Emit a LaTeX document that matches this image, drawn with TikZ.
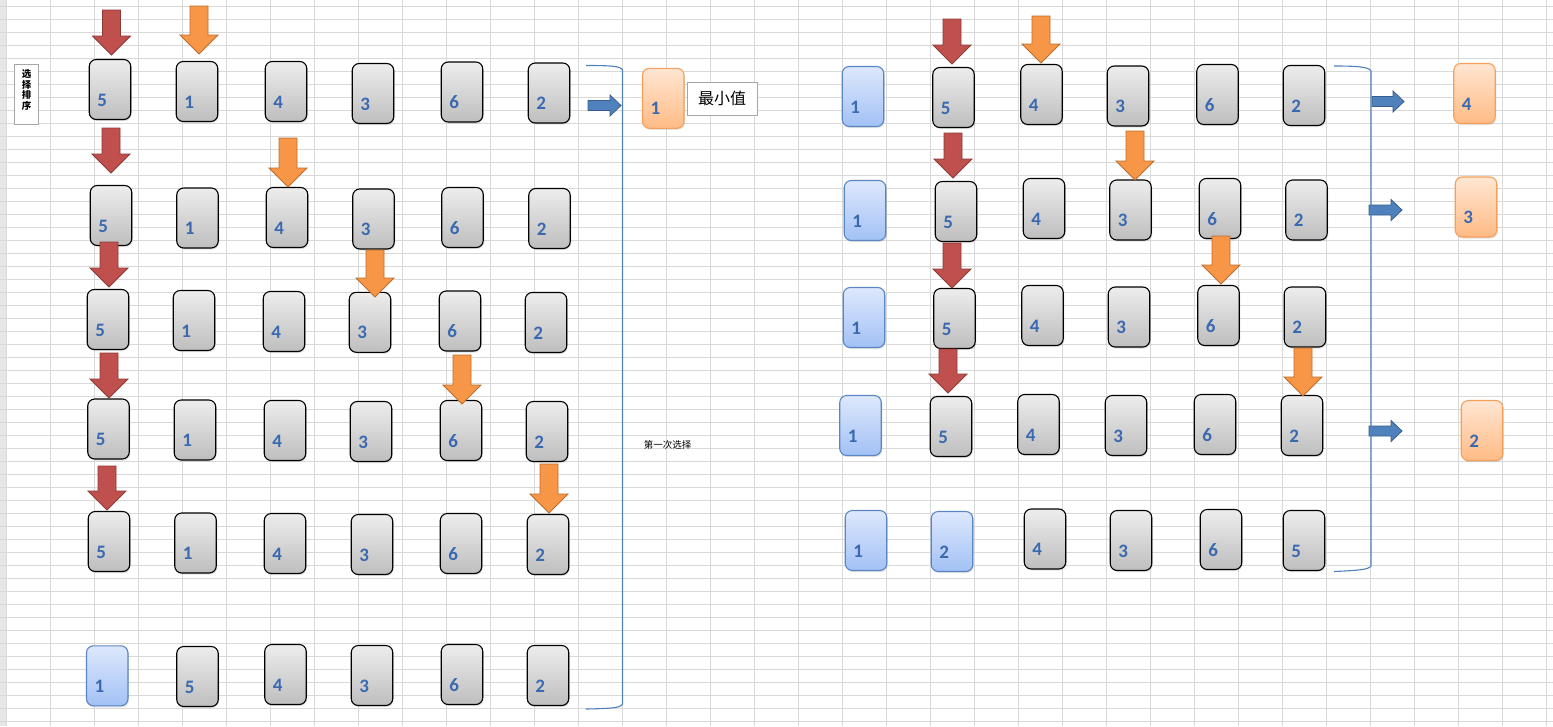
\documentclass[tikz,border=0pt]{standalone}
\usepackage{fontspec}
\newfontfamily\cjk{Noto Sans CJK SC}
\newfontfamily\numfont{Carlito}
\usetikzlibrary{shadows,calc}
\definecolor{gridc}{HTML}{D9D9D9}
\definecolor{hdrc}{HTML}{E6E6E6}
\definecolor{redf}{HTML}{C0504D}
\definecolor{redd}{HTML}{8C3A38}
\definecolor{orgf}{HTML}{F79646}
\definecolor{orgd}{HTML}{B96D30}
\definecolor{bluf}{HTML}{4F81BD}
\definecolor{blud}{HTML}{385D8A}
\definecolor{numc}{HTML}{3A69B0}
\definecolor{gtop}{HTML}{EDEDED}
\definecolor{gbot}{HTML}{BEBEBE}
\definecolor{btop}{HTML}{DDE8FC}
\definecolor{bbot}{HTML}{A3C1F5}
\definecolor{bbrd}{HTML}{5B86C4}
\definecolor{otop}{HTML}{FFE6D2}
\definecolor{obot}{HTML}{FFBB85}
\definecolor{obrd}{HTML}{F5A05A}
\tikzset{
  gridline/.style={draw=gridc, line width=1pt},
  cardbase/.style={rounded corners=7pt, line width=1.1pt, minimum width=41.5pt,
    minimum height=60pt, inner sep=0pt,
    drop shadow={opacity=.22, shadow xshift=1pt, shadow yshift=-1.5pt}},
  greycard/.style={cardbase, draw=black, top color=gtop, bottom color=gbot},
  bluecard/.style={cardbase, draw=bbrd, top color=btop, bottom color=bbot},
  orgcard/.style={cardbase, draw=obrd, top color=otop, bottom color=obot},
  numtxt/.style={inner sep=0pt, text=numc, font=\numfont\bfseries\fontsize{19}{19}\selectfont},
  redarr/.style={fill=redf, draw=redd, line width=0.8pt, line join=miter},
  orgarr/.style={fill=orgf, draw=orgd, line width=0.8pt, line join=miter},
  bluarr/.style={fill=bluf, draw=blud, line width=0.8pt, line join=miter},
  brk/.style={draw=bluf, line width=1.1pt},
  lbox/.style={draw=gray!70, fill=white, line width=0.6pt, minimum width=24pt, minimum height=60pt, inner sep=0pt},
  minbox/.style={draw=gray!70, fill=white, line width=0.7pt, minimum width=70pt, minimum height=33pt, inner sep=0pt,
    font=\cjk\fontsize{16}{16}\selectfont},
}
\newcommand{\MkCard}[5]{%
  \node[#1] (#2) at (#3,#4) {};
  \node[numtxt] at ($(#2.north west)+(13.5,41)$) {#5};
}
\newcommand{\DnArr}[4]{% x center, top, bottom, style
  \draw[#4] ({#1-9},#2) -- ({#1+9},#2) -- ({#1+9},{#3-19}) -- ({#1+19},{#3-19}) --
    (#1,#3) -- ({#1-19},{#3-19}) -- ({#1-9},{#3-19}) -- cycle;
}
\newcommand{\RtArr}[3]{% x left, x right, y center
  \draw[bluarr] (#1,{#3-5}) -- ({#2-11},{#3-5}) -- ({#2-11},{#3-10.5}) -- (#2,#3) --
    ({#2-11},{#3+10.5}) -- ({#2-11},{#3+5}) -- (#1,{#3+5}) -- cycle;
}
\begin{document}
\begin{tikzpicture}[x=1pt,y=-1pt]
\useasboundingbox (0,0) rectangle (1553,726);
\fill[white] (0,0) rectangle (1553,726);
\fill[hdrc] (0,0) rectangle (6,726);
% grid
\foreach \i in {0,...,34} \draw[gridline] ({50+44*\i},0) -- ({50+44*\i},726);
\draw[gridline] (6,0) -- (6,726);
\foreach \j in {0,...,55} \draw[gridline] (0,{6+13*\j}) -- (1553,{6+13*\j});

% title box
\node[lbox] (title) at (26.5,94) {};
\node[inner sep=0pt, align=center, font=\cjk\bfseries\fontsize{9.5}{10.8}\selectfont] (titletxt) at (26.5,90) {选\\择\\排\\序};

% ---------- left section ----------
\MkCard{greycard}{a1}{110}{89.5}{5}
\MkCard{greycard}{a2}{197}{91.5}{1}
\MkCard{greycard}{a3}{286}{91.5}{4}
\MkCard{greycard}{a4}{373}{93.5}{3}
\MkCard{greycard}{a5}{462}{92}{6}
\MkCard{greycard}{a6}{549}{93}{2}

\MkCard{greycard}{b1}{111}{215.5}{5}
\MkCard{greycard}{b2}{197.5}{218}{1}
\MkCard{greycard}{b3}{287}{217.5}{4}
\MkCard{greycard}{b4}{373.5}{219}{3}
\MkCard{greycard}{b5}{462.5}{217.5}{6}
\MkCard{greycard}{b6}{549.5}{218.5}{2}

\MkCard{greycard}{c1}{108}{319.5}{5}
\MkCard{greycard}{c2}{194}{320.5}{1}
\MkCard{greycard}{c3}{284}{321.5}{4}
\MkCard{greycard}{c4}{370}{322.3}{3}
\MkCard{greycard}{c5}{460}{321}{6}
\MkCard{greycard}{c6}{546}{322.5}{2}

\MkCard{greycard}{d1}{108.5}{429}{5}
\MkCard{greycard}{d2}{195}{430}{1}
\MkCard{greycard}{d3}{285}{430.5}{4}
\MkCard{greycard}{d4}{371}{431.5}{3}
\MkCard{greycard}{d5}{461}{430.5}{6}
\MkCard{greycard}{d6}{547}{431.5}{2}

\MkCard{greycard}{e1}{109}{541.5}{5}
\MkCard{greycard}{e2}{195.5}{543}{1}
\MkCard{greycard}{e3}{285}{543.5}{4}
\MkCard{greycard}{e4}{372}{544.5}{3}
\MkCard{greycard}{e5}{461}{543.5}{6}
\MkCard{greycard}{e6}{548}{544.5}{2}

\MkCard{bluecard}{f1}{107.2}{675.8}{1}
\MkCard{greycard}{f2}{197.5}{676.5}{5}
\MkCard{greycard}{f3}{285.5}{674.5}{4}
\MkCard{greycard}{f4}{372}{675.5}{3}
\MkCard{greycard}{f5}{462}{674.5}{6}
\MkCard{greycard}{f6}{548}{675.5}{2}

\MkCard{orgcard}{amin}{663.2}{98.3}{1}
\node[minbox] (minlbl) at (722,98.5) {最小值};

% left arrows
\DnArr{111.5}{10}{55}{redarr}
\DnArr{199}{6}{54}{orgarr}
\DnArr{111}{128}{173}{redarr}
\DnArr{288}{138}{187}{orgarr}
\DnArr{109}{242}{287}{redarr}
\DnArr{375}{250}{297}{orgarr}
\DnArr{109}{353}{398}{redarr}
\DnArr{462}{355}{404}{orgarr}
\DnArr{107}{466}{510}{redarr}
\DnArr{549}{464}{513}{orgarr}

\RtArr{588}{621}{105.5}
\draw[brk] (586,65.5) .. controls (610,65.5) and (621,66) .. (622.5,70) -- (622.5,704)
  .. controls (621,708) and (610,708.5) .. (586,709);
\node[inner sep=0pt, font=\cjk\fontsize{9.5}{10}\selectfont] (first) at (667.5,445) {第一次选择};

% ---------- right section ----------
\MkCard{bluecard}{p1}{863}{96.5}{1}
\MkCard{greycard}{p2}{953.5}{97.5}{5}
\MkCard{greycard}{p3}{1041.5}{94.5}{4}
\MkCard{greycard}{p4}{1128}{96}{3}
\MkCard{greycard}{p5}{1217.5}{94.5}{6}
\MkCard{greycard}{p6}{1304}{95.5}{2}
\MkCard{orgcard}{pmin}{1474.5}{93.5}{4}

\MkCard{bluecard}{q1}{865}{210.5}{1}
\MkCard{greycard}{q2}{956}{211.5}{5}
\MkCard{greycard}{q3}{1044}{208.5}{4}
\MkCard{greycard}{q4}{1130.5}{210}{3}
\MkCard{greycard}{q5}{1220}{208.5}{6}
\MkCard{greycard}{q6}{1306.5}{210}{2}
\MkCard{orgcard}{qmin}{1476}{207}{3}

\MkCard{bluecard}{r1}{864}{317.5}{1}
\MkCard{greycard}{r2}{954.5}{318.5}{5}
\MkCard{greycard}{r3}{1042.5}{315.5}{4}
\MkCard{greycard}{r4}{1129}{317}{3}
\MkCard{greycard}{r5}{1218.5}{315.5}{6}
\MkCard{greycard}{r6}{1305}{317}{2}

\MkCard{bluecard}{s1}{860.5}{425.5}{1}
\MkCard{greycard}{s2}{951}{426.5}{5}
\MkCard{greycard}{s3}{1038.5}{424.5}{4}
\MkCard{greycard}{s4}{1126}{425.5}{3}
\MkCard{greycard}{s5}{1215}{424.5}{6}
\MkCard{greycard}{s6}{1302}{425.5}{2}
\MkCard{orgcard}{smin}{1482}{430.5}{2}

\MkCard{bluecard}{t1}{866}{540.5}{1}
\MkCard{bluecard}{t2}{952}{541.5}{2}
\MkCard{greycard}{t3}{1045}{539}{4}
\MkCard{greycard}{t4}{1131}{540.5}{3}
\MkCard{greycard}{t5}{1221}{539.5}{6}
\MkCard{greycard}{t6}{1304}{540.5}{5}

% right arrows
\DnArr{952}{19}{64}{redarr}
\DnArr{1041}{16}{63}{orgarr}
\DnArr{953}{133}{178}{redarr}
\DnArr{1135}{131}{180}{orgarr}
\DnArr{952}{243}{288}{redarr}
\DnArr{1221}{236}{284}{orgarr}
\DnArr{948}{349}{393}{redarr}
\DnArr{1303}{348}{396}{orgarr}

\RtArr{1372}{1404}{101.5}
\RtArr{1369}{1402}{210}
\RtArr{1369}{1402}{431}
\draw[brk] (1334,66) .. controls (1358,66) and (1369,67) .. (1371,71) -- (1371,566)
  .. controls (1369,569.5) and (1358,570.5) .. (1334,571.5);
\end{tikzpicture}
\end{document}
